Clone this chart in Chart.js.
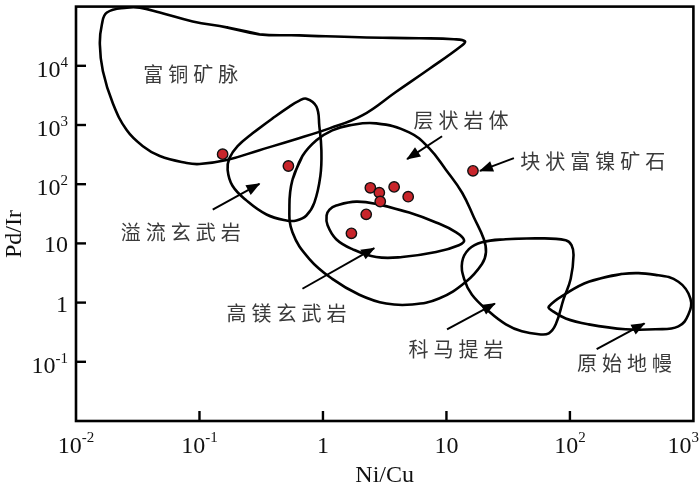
<!DOCTYPE html>
<html><head><meta charset="utf-8">
<script src="https://cdn.jsdelivr.net/npm/chart.js@4"></script>
<style>html,body{margin:0;padding:0;background:#fff}#wrap{width:700px;height:485px;position:relative}</style>
</head><body><div id="wrap"><canvas id="c"></canvas></div>
<script>
// ---- tick labels ----
const xTickValues = [0.01, 0.1, 1, 10, 100, 1000];
const xTickBase = ['10', '10', '1', '10', '10', '10'];
const xTickSup = ['-2', '-1', '', '', '2', '3'];
const yTickValues = [0.1, 1, 10, 100, 1000, 10000];
const yTickBase = ['10', '1', '10', '10', '10', '10'];
const yTickSup = ['-1', '', '', '2', '3', '4'];

// ---- field outlines (Ni/Cu, Pd/Ir) ----
const richCuVein = [[0.166,44600],[0.306,34000],[0.645,32700],[1.97,30300],[6.01,29200],[11.5,28100],[14.1,26000],[13.1,21400],[7.24,8840],[3.92,3650],[2.08,1450],[1.13,877],[0.566,553],[0.306,376],[0.166,256],[0.100,219],[0.0788,228],[0.0477,299],[0.0348,439],[0.0258,812],[0.0199,2300],[0.0165,8180],[0.0156,23100],[0.0162,50000],[0.0178,79400],[0.0258,96200],[0.0329,96200],[0.0477,79400],[0.0881,56100]];
const floodBasalt = [[0.269,724],[0.390,1290],[0.535,2050],[0.645,2578],[0.734,2785],[0.885,2050],[0.935,948],[0.971,376],[0.953,138],[0.852,48.9],[0.734,29.6],[0.610,24.4],[0.506,24.4],[0.349,30.8],[0.241,52.8],[0.185,94.0],[0.169,174],[0.175,276],[0.2035,439]];
const layeredIntrusion = [[0.566,118.5],[0.682,299],[0.885,553],[1.19,812],[1.63,985],[2.70,1064],[4.99,752],[7.24,406],[9.93,174],[13.4,71.8],[16.7,27.4],[20.1,11.75],[20.9,7.13],[19.4,4.49],[14.4,2.25],[8.71,1.17],[5.27,0.926],[3.25,0.962],[1.97,1.36],[1.19,2.52],[0.777,5.44],[0.566,15.4],[0.535,43.5]];
const highMgBasalt = [[2.86,45.2],[4.99,33.2],[8.24,22.6],[12.0,15.4],[13.9,11.3],[12.6,9.33],[8.24,7.13],[4.38,5.88],[2.70,5.88],[1.73,8.0],[1.28,11.75],[1.09,20.2],[1.07,29.6],[1.13,37.3],[1.28,43.5],[1.86,50.8]];
const komatiite = [[30.3,11.75],[56.0,12.2],[92.5,11.3],[103,9.33],[107,6.35],[101.5,2.52],[89.1,1.17],[76.8,0.429],[67.4,0.303],[56.0,0.292],[40.8,0.327],[30.3,0.429],[22.1,0.707],[16.1,1.36],[13.9,2.52],[13.4,4.85],[15.2,8.0],[19.4,10.5]];
const primitiveMantle = [[142,2.25],[262,3.05],[493,2.94],[756,2.25],[946,1.17],[911,0.63],[756,0.397],[493,0.354],[282,0.354],[142,0.429],[92.5,0.54],[71.3,0.735],[67.4,0.857],[92.5,1.41]];

// ---- samples ----
const sampleNiCu = [0.154, 0.525, 2.42, 2.86, 3.77, 4.90, 2.91, 2.24, 1.70, 16.4];
const samplePdIr = [322, 203, 87, 72, 90, 61.5, 51, 31, 14.8, 168];

// ---- arrows (tail -> head) ----
const arrowTails = [[0.128,37.3],[9.22,645],[35.2,276],[0.682,1.714],[10.11,0.354],[164.6,0.1637]];
const arrowHeads = [[0.306,101.5],[4.805,266],[18.68,167.5],[2.602,8.31],[24.7,0.962],[402,0.4456]];

// ---- field labels ----
const labelTexts = ['富铜矿脉','层状岩体','块状富镍矿石','溢流玄武岩','高镁玄武岩','科马提岩','原始地幔'];
const labelNiCu = [0.0849, 13.1, 152.8, 0.0705, 0.506, 11.95, 277];
const labelPdIr = [7290, 1194, 246, 15.4, 0.655, 0.1637, 0.0955];

const toPts = a => a.map(p => ({x: p[0], y: p[1]}));
const closed = a => toPts(a.concat([a[0], a[1]]));

const datasets = [];
datasets.push({
  data: sampleNiCu.map((v, i) => ({x: v, y: samplePdIr[i]})),
  showLine: false, pointRadius: 5.2, pointBackgroundColor: '#c8252b',
  pointBorderColor: '#111', pointBorderWidth: 1.4
});
arrowTails.forEach((t, i) => {
  datasets.push({
    data: toPts([t, arrowHeads[i]]), isArrow: true,
    showLine: true, pointRadius: 0, borderColor: '#000', borderWidth: 2, tension: 0
  });
});
[richCuVein, floodBasalt, layeredIntrusion, highMgBasalt, komatiite, primitiveMantle].forEach(c => {
  datasets.push({
    data: closed(c), showLine: true, pointRadius: 0,
    borderColor: '#000', borderWidth: 2.6, tension: 0.42, fill: false
  });
});

const SERIF = '"Liberation Serif", "Times New Roman", serif';

const decor = {
  id: 'decor',
  afterDatasetsDraw(chart) {
    const ctx = chart.ctx;
    chart.data.datasets.forEach((ds, i) => {
      if (!ds.isArrow) return;
      const m = chart.getDatasetMeta(i);
      const p0 = m.data[0], p1 = m.data[1];
      const ang = Math.atan2(p1.y - p0.y, p1.x - p0.x);
      ctx.save();
      ctx.translate(p1.x, p1.y);
      ctx.rotate(ang);
      ctx.beginPath();
      ctx.moveTo(1, 0); ctx.lineTo(-13, -5.5); ctx.lineTo(-13, 5.5); ctx.closePath();
      ctx.fillStyle = '#000'; ctx.fill();
      ctx.restore();
    });
  },
  afterDraw(chart) {
    const ctx = chart.ctx, a = chart.chartArea;
    const xs = chart.scales.x, ys = chart.scales.y;
    ctx.save();
    // frame
    ctx.strokeStyle = '#000'; ctx.lineWidth = 2.6;
    ctx.strokeRect(a.left, a.top, a.right - a.left, a.bottom - a.top);
    // ticks
    ctx.lineWidth = 2.4;
    xTickValues.forEach(v => {
      if (v <= xs.min || v >= xs.max) return;
      const px = xs.getPixelForValue(v);
      ctx.beginPath(); ctx.moveTo(px, a.bottom); ctx.lineTo(px, a.bottom - 10); ctx.stroke();
    });
    yTickValues.forEach(v => {
      if (v <= ys.min || v >= ys.max) return;
      const py = ys.getPixelForValue(v);
      ctx.beginPath(); ctx.moveTo(a.left, py); ctx.lineTo(a.left + 10, py); ctx.stroke();
    });
    // tick labels
    ctx.fillStyle = '#111';
    ctx.textBaseline = 'alphabetic'; ctx.textAlign = 'left';
    const baseFont = '24px ' + SERIF, supFont = '15px ' + SERIF;
    const W = chart.width;
    xTickValues.forEach((v, i) => {
      const px = xs.getPixelForValue(v);
      ctx.font = baseFont; const wb = ctx.measureText(xTickBase[i]).width;
      ctx.font = supFont; const wsup = xTickSup[i] ? ctx.measureText(xTickSup[i]).width : 0;
      let x0 = px - (wb + wsup) / 2;
      if (x0 + wb + wsup > W - 1) x0 = W - 1 - (wb + wsup);
      ctx.font = baseFont; ctx.fillText(xTickBase[i], x0, 453);
      if (xTickSup[i]) { ctx.font = supFont; ctx.fillText(xTickSup[i], x0 + wb, 442); }
    });
    yTickValues.forEach((v, i) => {
      const py = ys.getPixelForValue(v);
      ctx.font = baseFont; const wb = ctx.measureText(yTickBase[i]).width;
      ctx.font = supFont; const wsup = yTickSup[i] ? ctx.measureText(yTickSup[i]).width : 0;
      const x0 = a.left - 8 - (wb + wsup);
      const bl = py + 8 + (yTickSup[i] ? 3 : 1);
      ctx.font = baseFont; ctx.fillText(yTickBase[i], x0, bl);
      if (yTickSup[i]) { ctx.font = supFont; ctx.fillText(yTickSup[i], x0 + wb, bl - 10); }
    });
    // axis titles
    ctx.font = '24px ' + SERIF; ctx.textAlign = 'center'; ctx.textBaseline = 'middle';
    ctx.fillText('Ni/Cu', (a.left + a.right) / 2, 476);
    ctx.save(); ctx.translate(15, 234); ctx.rotate(-Math.PI / 2);
    ctx.fillText('Pd/Ir', 0, 0); ctx.restore();
    // field labels
    ctx.font = '20px "Noto Sans CJK SC", sans-serif';
    ctx.fillStyle = '#3a3a3a'; ctx.textAlign = 'left'; ctx.textBaseline = 'middle';
    const pitch = 25, fs = 20;
    labelTexts.forEach((t, i) => {
      const cx = xs.getPixelForValue(labelNiCu[i]);
      const cy = ys.getPixelForValue(labelPdIr[i]);
      const chars = Array.from(t);
      const w = (chars.length - 1) * pitch + fs;
      chars.forEach((ch, k) => ctx.fillText(ch, cx - w / 2 + k * pitch, cy));
    });
    ctx.restore();
  }
};

new Chart(document.getElementById('c'), {
  type: 'scatter',
  data: { datasets },
  options: {
    responsive: true, maintainAspectRatio: false, animation: false, events: [],
    layout: { padding: { left: 76, right: 5, top: 2, bottom: 64 } },
    plugins: { legend: { display: false }, tooltip: { enabled: false } },
    scales: {
      x: { type: 'logarithmic', min: 0.01, max: 1000, display: false },
      y: { type: 'logarithmic', min: 0.01, max: 100000, display: false }
    }
  },
  plugins: [decor]
});
</script>
</body></html>
